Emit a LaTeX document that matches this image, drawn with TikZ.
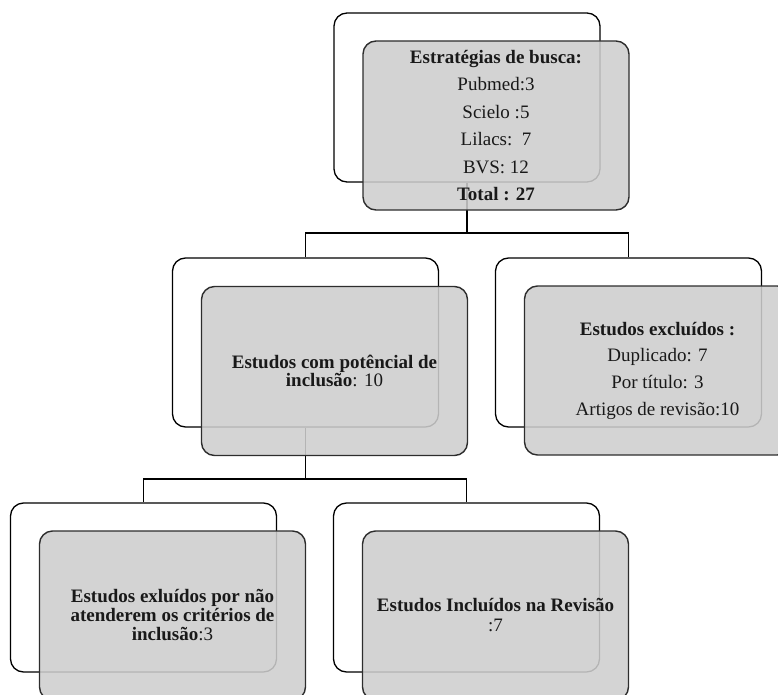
\documentclass[tikz,border=0pt]{standalone}
\usepackage{fontspec}
\setmainfont{Liberation Serif}
\definecolor{frontfill}{RGB}{206,206,206}
\definecolor{frontline}{RGB}{45,45,45}
\definecolor{txt}{RGB}{25,25,25}
\tikzset{
  backbox/.style={draw=black, line width=1.3pt, fill=white, rounded corners=13pt,
    minimum width=266pt, minimum height=169pt, inner sep=0pt},
  frontbox/.style={draw=frontline, line width=1.4pt, fill=frontfill, fill opacity=0.88,
    text opacity=1, draw opacity=1, rounded corners=13pt,
    minimum width=266pt, minimum height=169pt, inner sep=0pt, align=center, text=txt},
  conn/.style={draw=black, line width=1.4pt}
}
\begin{document}
\begin{tikzpicture}[x=1pt,y=-1pt]
\useasboundingbox (0,0) rectangle (778,695);
\clip (0,0) rectangle (778,695);
% back boxes
\node[backbox] (tb) at (467,97.5) {};
\node[backbox] (ml) at (305.5,342.5) {};
\node[backbox] (mr) at (628.5,342.5) {};
\node[backbox] (bl) at (143.5,587.5) {};
\node[backbox] (br) at (466.5,587.5) {};
% connectors
\coordinate (j1) at (467,233);
\coordinate (j2) at (305.5,479);
\draw[conn] (tb.south) -- (j1) -| (ml.north);
\draw[conn] (j1) -| (mr.north);
\draw[conn] (ml.south) -- (j2) -| (bl.north);
\draw[conn] (j2) -| (br.north);
% front boxes
\node[frontbox, font=\fontsize{19}{27.5}\selectfont] (tf) at (496,125.5)
  {\textbf{Estratégias de busca:}\\Pubmed:3\\Scielo :5\\Lilacs:~~7\\BVS: 12\\\textbf{Total : 27}};
\node[frontbox, font=\fontsize{19}{17.5}\selectfont] (mlf) at (334.5,371)
  {\textbf{Estudos com potêncial de}\\\textbf{inclusão}: 10};
\node[frontbox, font=\fontsize{19}{26.7}\selectfont] (mrf) at (657.5,370.5)
  {\textbf{Estudos excluídos :}\\Duplicado: 7\\Por título: 3\\Artigos de revisão:10};
\node[frontbox, font=\fontsize{19}{19}\selectfont] (blf) at (172.5,615.5)
  {\textbf{Estudos exluídos por não}\\\textbf{atenderem os critérios de}\\\textbf{inclusão}:3};
\node[frontbox, font=\fontsize{19}{20}\selectfont] (brf) at (495.5,615.5)
  {\textbf{Estudos Incluídos na Revisão}\\:7};
\end{tikzpicture}
\end{document}
